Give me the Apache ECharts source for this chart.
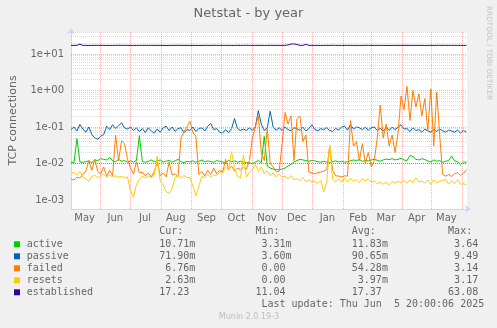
<!DOCTYPE html>
<html><head><meta charset="utf-8">
<script src="https://cdn.jsdelivr.net/npm/echarts@6/dist/echarts.min.js"></script>
<style>html,body{margin:0;padding:0;background:#F0F0F0;}#c{width:497px;height:328px;}</style>
</head><body><div id="c"></div>
<script>
// ---- data ----
const startTime = Date.UTC(2024, 4, 2, 7, 0, 0);
const endTime = Date.UTC(2025, 5, 5, 20, 0, 6);
const stepDays = 3;

const active = [0.011,0.0105,0.048,0.011,0.0108,0.0112,0.0118,0.0105,0.0125,0.012,
 0.0135,0.013,0.0125,0.0145,0.0118,0.0112,0.013,0.0115,0.012,0.011,
 0.0118,0.011,0.012,0.058,0.0112,0.0108,0.0115,0.0125,0.0112,0.0118,
 0.0125,0.011,0.0115,0.0122,0.0108,0.0118,0.013,0.0112,0.0105,0.0115,
 0.011,0.0118,0.0108,0.0115,0.0125,0.011,0.0118,0.0112,0.0108,0.012,
 0.0115,0.011,0.0105,0.0122,0.0112,0.0118,0.0108,0.0115,0.011,0.0105,
 0.0105,0.0098,0.011,0.012,0.0105,0.055,0.0085,0.0075,0.007,0.0068,
 0.0068,0.007,0.0075,0.0085,0.0095,0.011,0.012,0.013,0.0125,0.012,
 0.0115,0.012,0.0118,0.0112,0.0108,0.0115,0.011,0.0105,0.0112,0.0118,
 0.011,0.0115,0.0108,0.0112,0.0118,0.0125,0.012,0.0128,0.0115,0.012,
 0.0118,0.0125,0.013,0.0122,0.0115,0.0125,0.0132,0.0128,0.0135,0.0125,
 0.013,0.0138,0.0125,0.012,0.0165,0.0155,0.013,0.0125,0.0135,0.0128,
 0.0118,0.011,0.0125,0.0115,0.012,0.0108,0.0115,0.012,0.016,0.0118,
 0.0112,0.0095,0.011,0.0107];

const passive = [0.085,0.1,0.078,0.118,0.088,0.072,0.1,0.062,0.05,0.046,
 0.056,0.062,0.105,0.085,0.115,0.09,0.108,0.13,0.095,0.088,
 0.1,0.08,0.095,0.075,0.09,0.07,0.095,0.078,0.068,0.088,
 0.072,0.095,0.105,0.08,0.1,0.076,0.09,0.095,0.07,0.085,
 0.08,0.1,0.075,0.09,0.095,0.078,0.105,0.125,0.085,0.09,
 0.072,0.068,0.085,0.07,0.09,0.17,0.09,0.08,0.088,0.08,
 0.095,0.08,0.1,0.28,0.12,0.08,0.095,0.27,0.098,0.082,
 0.095,0.08,0.1,0.085,0.078,0.095,0.09,0.08,0.098,0.078,
 0.09,0.115,0.085,0.078,0.09,0.085,0.095,0.08,0.075,0.092,
 0.082,0.1,0.105,0.082,0.115,0.088,0.1,0.095,0.085,0.098,
 0.082,0.095,0.1,0.08,0.092,0.078,0.095,0.082,0.098,0.085,
 0.1,0.115,0.088,0.09,0.075,0.095,0.08,0.085,0.072,0.088,
 0.078,0.072,0.085,0.075,0.088,0.078,0.072,0.082,0.078,0.072,
 0.082,0.068,0.08,0.072];

const failed = [0.0038,0.0035,0.0042,0.004,0.005,0.0062,0.012,0.0065,0.013,0.006,
 0.0052,0.008,0.0045,0.0065,0.0046,0.06,0.012,0.042,0.035,0.013,
 0.0075,0.0052,0.011,0.0055,0.0058,0.0046,0.0055,0.0043,0.006,0.011,
 0.0046,0.0055,0.0043,0.011,0.0048,0.0052,0.0044,0.05,0.075,0.1,
 0.145,0.07,0.055,0.005,0.006,0.0046,0.0065,0.005,0.0075,0.0052,
 0.0065,0.0058,0.013,0.007,0.0085,0.0062,0.0075,0.0068,0.0078,0.007,
 0.012,0.05,0.1,0.2,0.02,0.012,0.09,0.01,0.008,0.006,
 0.006,0.035,0.25,0.12,0.2,0.012,0.17,0.2,0.04,0.06,
 0.0058,0.0055,0.0052,0.0056,0.0058,0.0062,0.0068,0.03,0.0065,0.0046,
 0.0045,0.0043,0.0046,0.0045,0.15,0.03,0.04,0.012,0.035,0.01,
 0.02,0.008,0.012,0.05,0.4,0.05,0.12,0.03,0.06,0.02,
 0.07,0.7,0.3,1.3,0.15,1.0,0.35,0.8,0.2,0.6,
 0.08,1.1,0.03,0.9,0.06,0.005,0.0045,0.005,0.0044,0.0052,
 0.0056,0.0047,0.0054,0.0068];

const resets = [0.0052,0.0058,0.0048,0.006,0.0042,0.0038,0.0032,0.0044,0.0048,0.004,
 0.0047,0.005,0.0042,0.0048,0.0043,0.0046,0.0042,0.0045,0.004,0.0043,
 0.0018,0.0012,0.0026,0.0036,0.0045,0.004,0.0046,0.0041,0.0048,0.016,
 0.0033,0.0026,0.0017,0.0015,0.0021,0.0042,0.0047,0.004,0.0047,0.0041,
 0.0042,0.0024,0.0013,0.0024,0.0044,0.0041,0.005,0.0042,0.0048,0.0047,
 0.0058,0.0055,0.008,0.0065,0.021,0.0072,0.0045,0.004,0.017,0.0043,
 0.0058,0.0068,0.0095,0.006,0.008,0.0052,0.0063,0.0046,0.0055,0.0043,
 0.005,0.0043,0.0045,0.0038,0.0047,0.0036,0.0038,0.0034,0.0041,0.0032,
 0.0035,0.0031,0.0033,0.0028,0.0034,0.0017,0.003,0.032,0.0037,0.0031,
 0.0038,0.0031,0.004,0.0032,0.0039,0.0033,0.0036,0.003,0.0039,0.0033,
 0.0038,0.0031,0.0033,0.0028,0.0031,0.0027,0.0031,0.0026,0.0032,0.0029,
 0.0033,0.0029,0.0034,0.0029,0.0035,0.003,0.004,0.0031,0.0033,0.0029,
 0.0035,0.0027,0.0036,0.0029,0.0033,0.0034,0.0037,0.0027,0.0034,0.0028,
 0.0036,0.0027,0.0028,0.0026];

const established = [17.2,17.2,17.3,18.6,17.2,17.2,17.1,17.2,17.2,17.3,
 17.2,17.2,17.2,17.1,17.2,17.2,17.3,17.2,17.2,17.2,
 17.2,17.1,17.2,17.2,17.2,17.3,17.2,17.2,17.2,17.2,
 17.2,17.2,17.1,17.2,17.2,17.2,17.3,17.2,17.2,17.2,
 17.2,17.2,17.2,17.1,17.2,17.2,17.2,17.2,17.3,17.2,
 17.2,17.2,17.2,17.2,17.1,17.2,17.2,17.2,17.2,17.3,
 17.2,17.2,17.2,17.2,17.2,17.1,17.2,17.2,17.2,17.2,
 17.2,17.2,17.3,17.6,18.8,18.8,18.2,17.2,17.2,18.5,
 17.2,17.2,17.2,17.2,17.1,17.2,17.2,17.2,17.3,17.2,
 17.2,17.2,17.2,17.2,17.2,17.2,17.1,17.2,17.2,17.2,
 17.3,17.2,17.2,17.2,17.2,17.2,17.2,17.1,17.2,17.2,
 17.2,17.2,17.3,17.2,17.2,17.2,17.2,17.2,17.2,17.1,
 17.2,17.2,17.2,17.2,17.3,17.2,17.2,17.2,17.2,17.2,
 17.2,17.2,17.2,17.23];

const monthLabels = ['May','Jun','Jul','Aug','Sep','Oct','Nov','Dec','Jan','Feb','Mar','Apr','May'];
const monthLabelDates = [[2024,4],[2024,5],[2024,6],[2024,7],[2024,8],[2024,9],[2024,10],[2024,11],[2025,0],[2025,1],[2025,2],[2025,3],[2025,4]];
const monthBoundaryDates = [[2024,5],[2024,6],[2024,7],[2024,8],[2024,9],[2024,10],[2024,11],[2025,0],[2025,1],[2025,2],[2025,3],[2025,4],[2025,5]];
const yTickValues = [1e-3, 1e-2, 1e-1, 1, 10];
const yTickLabels = ['1e-03','1e-02','1e-01','1e+00','1e+01'];
const yMin = 5.66e-4, yMax = 40;

const seriesNames = ['active','passive','failed','resets','established'];
const seriesColors = ['#00CC00','#0066B3','#FF8000','#FFCC00','#330099'];
const curText = ['10.71m','71.90m','6.76m','2.63m','17.23'];
const minText = ['3.31m','3.60m','0.00','0.00','11.04'];
const avgText = ['11.83m','90.65m','54.28m','3.97m','17.37'];
const maxText = ['3.64','9.49','3.14','3.17','63.08'];
const lastUpdate = 'Last update: Thu Jun  5 20:00:06 2025';

// ---- build ----
const DAY = 86400000;
const seriesData = [active, passive, failed, resets, established];
const times = active.map((_, i) => startTime + i * stepDays * DAY);
const labelTimes = monthLabelDates.map(([y, m]) => Date.UTC(y, m, 16));
const boundaryTimes = monthBoundaryDates.map(([y, m]) => Date.UTC(y, m, 1));

const majorLines = [], minorLines = [];
for (let k = -4; k <= 1; k++) {
  for (let m = 1; m <= 9; m++) {
    const v = m * Math.pow(10, k);
    if (v < yMin || v > yMax * 1.0001) continue;
    (m === 1 ? majorLines : minorLines).push(v);
  }
}

const MAJOR = 'rgba(222,79,79,0.42)';
const MINOR = 'rgba(143,143,143,0.32)';
const gridSeries = {
  type: 'line', data: [], z: 1, silent: true, animation: false,
  markLine: {
    silent: true, symbol: ['none','none'], animation: false, label: { show: false },
    data: [
      ...minorLines.map(v => ({ yAxis: v, lineStyle: { color: MINOR, type: [1,1], width: 1 } })),
      ...majorLines.map(v => ({ yAxis: v, lineStyle: { color: MAJOR, type: [1,1], width: 1 } })),
      ...boundaryTimes.map(t => ({ xAxis: t, lineStyle: { color: MAJOR, type: [1,1], width: 1 } }))
    ]
  }
};

const series = [gridSeries].concat(seriesNames.map((n, si) => ({
  name: n, type: 'line', z: 2 + si, showSymbol: false, animation: false,
  lineStyle: { color: seriesColors[si], width: 1 }, itemStyle: { color: seriesColors[si] },
  data: seriesData[si].map((v, i) => [times[i], v])
})));

const MONO = '"DejaVu Sans Mono", monospace';
const SANS = '"DejaVu Sans", sans-serif';
const FONT = '#666666';
const charW = 6.02, col0 = 26.7;
const colX = c => col0 + c * charW;
const fmt = s => (/m$/.test(s) ? s : s + ' ').padStart(6, ' ');

const graphics = [];
graphics.push({ type: 'text', x: 248.5, y: 13.5, style: { text: 'Netstat - by year', font: '13px ' + SANS, fill: FONT, align: 'center', verticalAlign: 'middle' } });
graphics.push({ type: 'text', x: 488.5, y: 53, rotation: -Math.PI / 2, style: { text: 'RRDTOOL / TOBI OETIKER', font: '7.3px ' + SANS, fill: '#c4c4c4', align: 'center', verticalAlign: 'middle' } });
const headY = 231.7;
[['Cur:',22],['Min:',38],['Avg:',54],['Max:',70]].forEach(([t,c]) => graphics.push({ type:'text', x: colX(c), y: headY, style:{ text:t, font:'10px '+MONO, fill:FONT, align:'left', verticalAlign:'middle' } }));
seriesNames.forEach((n, i) => {
  const y = 244.3 + i * 12;
  graphics.push({ type: 'rect', shape: { x: 14, y: y - 3, width: 6, height: 6 }, style: { fill: seriesColors[i] } });
  graphics.push({ type: 'text', x: colX(0), y, style: { text: n, font: '10px ' + MONO, fill: FONT, align: 'left', verticalAlign: 'middle' } });
  [[curText,22],[minText,38],[avgText,54],[maxText,70]].forEach(([arr,c]) => graphics.push({ type:'text', x: colX(c), y, style:{ text: fmt(arr[i]), font:'10px '+MONO, fill:FONT, align:'left', verticalAlign:'middle' } }));
});
graphics.push({ type: 'text', x: colX(39), y: 304.7, style: { text: lastUpdate, font: '10px ' + MONO, fill: FONT, align: 'left', verticalAlign: 'middle' } });
graphics.push({ type: 'text', x: 249, y: 317, style: { text: 'Munin 2.0.19-3', font: '8px ' + SANS, fill: '#bdbdbd', align: 'center', verticalAlign: 'middle' } });

const chart = echarts.init(document.getElementById('c'), null, { renderer: 'canvas' });
chart.setOption({
  backgroundColor: '#F0F0F0',
  animation: false,
  grid: { left: 67, top: 32, width: 400, height: 177, show: true, backgroundColor: '#FFFFFF', borderWidth: 0 },
  xAxis: {
    type: 'value', min: startTime, max: endTime,
    axisLine: { show: true, onZero: false, lineStyle: { color: '#CFD6F8', width: 1 }, symbol: ['none','arrow'], symbolSize: [6, 6], symbolOffset: [0, 4] },
    axisTick: { show: false }, splitLine: { show: false }, minorSplitLine: { show: false },
    axisLabel: { customValues: labelTimes, formatter: v => monthLabels[labelTimes.findIndex(t => Math.abs(t - v) < DAY)], color: FONT, fontFamily: SANS, fontSize: 10, margin: 4, hideOverlap: false }
  },
  yAxis: {
    type: 'log', logBase: 10, min: yMin, max: yMax,
    name: 'TCP connections', nameLocation: 'middle', nameGap: 52, nameRotate: 90,
    nameTextStyle: { color: FONT, fontFamily: SANS, fontSize: 11 },
    axisLine: { show: true, onZero: false, lineStyle: { color: '#CFD6F8', width: 1 }, symbol: ['none','arrow'], symbolSize: [6, 6], symbolOffset: [0, 4] },
    axisTick: { show: false }, splitLine: { show: false }, minorSplitLine: { show: false },
    axisLabel: { customValues: yTickValues, formatter: v => yTickLabels[yTickValues.findIndex(t => Math.abs(Math.log10(t) - Math.log10(v)) < 1e-6)], color: FONT, fontFamily: SANS, fontSize: 10, margin: 7 }
  },
  series,
  graphic: { elements: graphics }
});
</script></body></html>
